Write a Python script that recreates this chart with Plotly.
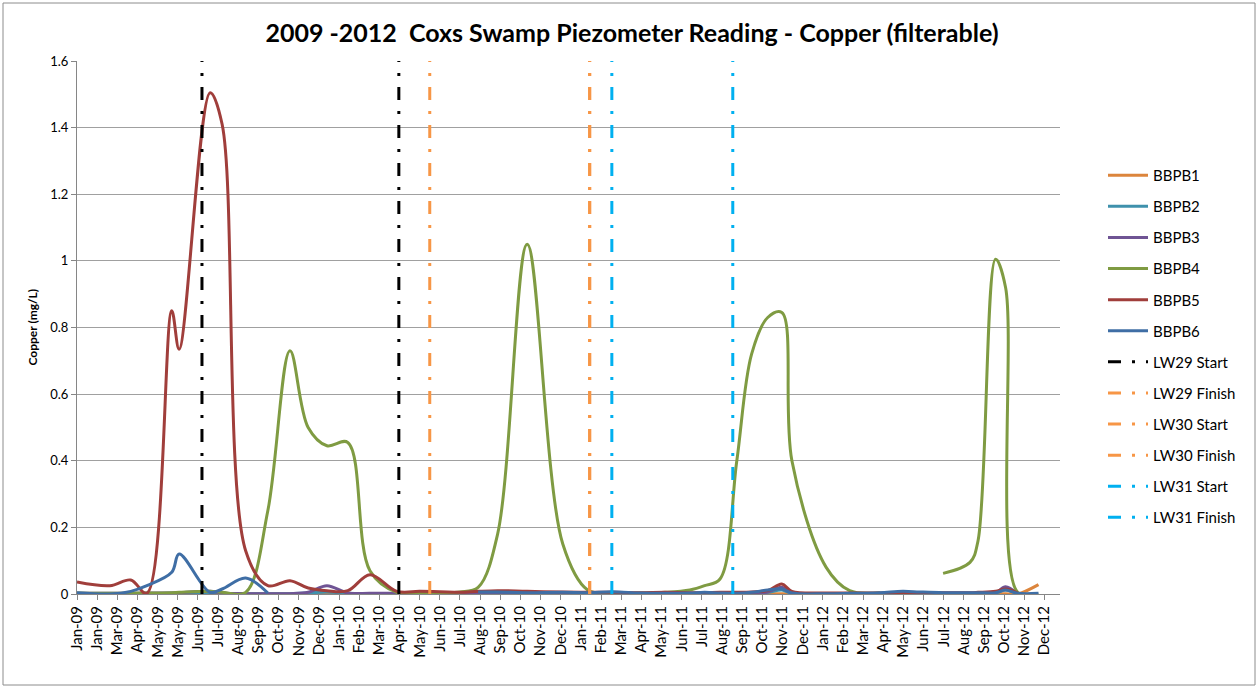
import plotly.graph_objects as go

# ---------------- data ----------------
sample_dates = [
    "2009-01-01", "2009-02-19", "2009-03-22", "2009-04-15", "2009-05-22", "2009-06-02",
    "2009-07-18", "2009-08-05", "2009-09-09", "2009-10-12", "2009-11-14", "2009-12-11",
    "2010-01-08", "2010-02-08", "2010-03-13", "2010-04-22", "2010-05-26", "2010-06-25",
    "2010-07-25", "2010-08-21", "2010-09-19", "2010-11-02", "2010-12-25",
    "2011-01-31", "2011-03-08", "2011-04-19", "2011-05-26", "2011-07-02", "2011-07-24",
    "2011-08-16", "2011-09-10", "2011-10-02", "2011-10-26", "2011-11-16", "2011-12-01",
    "2012-01-21", "2012-02-25", "2012-04-10", "2012-05-14", "2012-06-08", "2012-07-13",
    "2012-08-22", "2012-09-03", "2012-09-29", "2012-10-14", "2012-11-01", "2012-12-02",
]

bbpb1 = [0.001] * 45 + [0.0, 0.028]
bbpb2 = [0.001, 0.001, 0.001, 0.001, 0.002, 0.002, 0.002, 0.001, 0.001, 0.001,
         0.001, 0.003, 0.006, 0.002, 0.001, 0.001, 0.001, 0.001, 0.001, 0.001,
         0.001, 0.001, 0.001, 0.001, 0.001, 0.001, 0.001, 0.001, 0.001, 0.001,
         0.001, 0.001, 0.005, 0.012, 0.002, 0.001, 0.001, 0.001, 0.001, 0.001,
         0.001, 0.001, 0.001, 0.003, 0.012, 0.0, None]
bbpb3 = [0.002, 0.002, 0.002, 0.003, 0.003, 0.004, 0.008, 0.003, 0.001, 0.001,
         0.001, 0.005, 0.025, 0.003, 0.002, 0.002, 0.002, 0.002, 0.002, 0.002,
         0.002, 0.002, 0.002, 0.002, 0.002, 0.002, 0.002, 0.002, 0.002, 0.002,
         0.002, 0.002, 0.006, 0.02, 0.004, 0.001, 0.001, 0.001, 0.002, 0.002,
         0.002, 0.002, 0.002, 0.004, 0.022, 0.0, None]
bbpb4 = [0.003, 0.002, 0.003, 0.003, 0.004, 0.005, 0.008, 0.005, 0.005, 0.25,
         0.73, 0.50, 0.445, 0.455, 0.07, 0.005, 0.004, 0.004, 0.006, 0.02,
         0.18, 1.05, 0.15, 0.012, 0.002, 0.003, 0.005, 0.012, 0.025, 0.045,
         0.40, 0.72, 0.83, 0.845, 0.40, 0.08, 0.01, 0.004, None, None,
         0.062, 0.095, 0.16, 1.005, 0.92, 0.005, 0.0]
bbpb5 = [0.036, 0.025, 0.042, 0.002, 0.85, 0.735, 1.505, 1.41, 0.13, 0.025,
         0.04, 0.018, 0.01, 0.01, 0.058, 0.008, 0.008, 0.007, 0.005, 0.008,
         0.01, 0.008, 0.006, 0.005, 0.005, 0.004, 0.005, 0.004, 0.004, 0.005,
         0.005, 0.006, 0.01, 0.03, 0.008, 0.003, 0.003, 0.003, 0.004, 0.004,
         0.004, 0.004, 0.005, 0.008, 0.015, 0.003, None]
bbpb6 = [0.004, 0.0, 0.008, 0.025, 0.065, 0.12, 0.005, 0.015, 0.048, 0.003,
         None, None, None, None, None, None, None, None, None, 0.006,
         0.006, 0.004, 0.005, 0.004, 0.007, 0.003, 0.002, 0.003, 0.005, 0.003,
         0.002, 0.005, 0.012, 0.015, 0.003, 0.001, 0.002, 0.004, 0.008, 0.006,
         0.004, 0.004, 0.004, 0.004, 0.012, 0.002, 0.002]

series_names = ["BBPB1", "BBPB2", "BBPB3", "BBPB4", "BBPB5", "BBPB6"]
series_values = [bbpb1, bbpb2, bbpb3, bbpb4, bbpb5, bbpb6]
series_colors = ["#DC853C", "#3F91AC", "#6F5494", "#7F9B42", "#A03E3B", "#3F6EA5"]

event_names = ["LW29 Start", "LW29 Finish", "LW30 Start", "LW30 Finish", "LW31 Start", "LW31 Finish"]
event_dates = [["2009-07-06", "2010-04-25"], ["2010-06-10"], ["2011-02-03"], ["2011-02-03"],
               ["2011-03-08"], ["2011-09-04"]]
event_colors = ["#000000", "#F79646", "#F79646", "#F79646", "#00B0F0", "#00B0F0"]

y_min, y_max = 0, 1.6

FONT = "Lato"

fig = go.Figure()

for i, (name, vals, col) in enumerate(zip(series_names, series_values, series_colors)):
    fig.add_trace(go.Scatter(
        x=sample_dates, y=vals, name=name, mode="lines",
        line=dict(color=col, width=3, shape="spline", smoothing=1.0),
        connectgaps=False, legendgroup=f"g{i}",
    ))

for j, (name, dts, col) in enumerate(zip(event_names, event_dates, event_colors)):
    xs, ys = [], []
    for d in dts:
        xs += [d, d, None]
        ys += [y_min, y_max, None]
    fig.add_trace(go.Scatter(
        x=xs, y=ys, name=name, mode="lines",
        line=dict(color=col, width=3, dash="13px,11px,3px,11px"),
        legendgroup=f"e{j}",
    ))

L, R, T, B = 77, 198, 61, 95
W, H = 1258, 689
pw, ph = W - L - R, H - T - B

def px_x(p):
    return (p - L) / pw

def px_y(p):
    return (H - B - p) / ph

fig.update_layout(
    width=W, height=H,
    margin=dict(l=L, r=R, t=T, b=B, pad=0),
    paper_bgcolor="white", plot_bgcolor="white",
    font=dict(family=FONT, size=13, color="#000000"),
    title=dict(text="<b>2009 -2012  Coxs Swamp Piezometer Reading - Copper (filterable)</b>",
               x=632 / W, xref="container", xanchor="center",
               y=1 - 33 / H, yref="container", yanchor="middle",
               font=dict(family=FONT, size=25, color="#000000")),
    showlegend=True,
    legend=dict(x=px_x(1103), xanchor="left", y=px_y(159), yanchor="top",
                traceorder="grouped", tracegroupgap=8.6, itemwidth=40,
                font=dict(family=FONT, size=15, color="#000000"),
                bgcolor="rgba(0,0,0,0)"),
    xaxis=dict(
        type="date", range=["2009-01-01", "2013-01-03"],
        tick0="2009-01-01", dtick=30 * 86400000, tickformat="%b-%y",
        tickangle=-90, tickfont=dict(family=FONT, size=15),
        ticks="outside", ticklen=5, tickcolor="#868686",
        showline=True, linecolor="#868686", linewidth=1,
        showgrid=False, zeroline=False, automargin=False,
    ),
    yaxis=dict(
        range=[y_min, y_max], dtick=0.2, tick0=0,
        tickfont=dict(family=FONT, size=13),
        ticks="outside", ticklen=5, tickcolor="#868686",
        showline=True, linecolor="#868686", linewidth=1,
        showgrid=True, gridcolor="#A0A0A0", gridwidth=1,
        zeroline=False, automargin=False,
    ),
    annotations=[dict(text="<b>Copper (mg/L)</b>", textangle=-90,
                      x=px_x(32), xref="paper", xanchor="center",
                      y=0.5, yref="paper", yanchor="middle", showarrow=False,
                      font=dict(family=FONT, size=12, color="#000000"))],
    shapes=[dict(type="rect", xref="paper", yref="paper",
                 x0=px_x(3), x1=px_x(1255), y0=px_y(685), y1=px_y(3),
                 line=dict(color="#8C8C8C", width=1), fillcolor="rgba(0,0,0,0)",
                 layer="below")],
)

fig.write_html("out.html", config={"displayModeBar": False},
               post_script="document.body.style.margin='0';")
